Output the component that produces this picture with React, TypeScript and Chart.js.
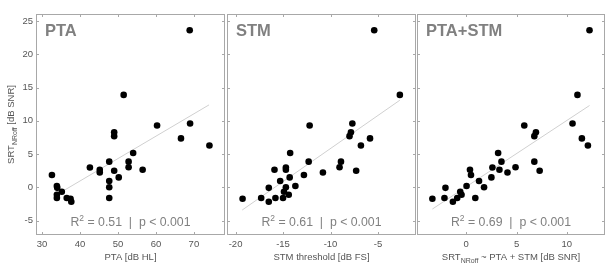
import React, { useEffect, useRef } from "react";
import { Chart, registerables } from "chart.js";

Chart.register(...registerables);

const W = 610;
const H = 269;
const FONT = "'Liberation Sans', Arial, Helvetica, sans-serif";

// SRT (NR off) values shared by all panels [dB SNR]
const srt = [
  -2.15, -1.7, -1.6, -1.6, -1.6, -1.1, -0.65, -0.07, 0.03, 0.2,
  0.97, 1.5, 1.87, 2.25, 2.5, 2.65, 2.65, 3.0, 3.03, 3.87,
  3.87, 5.17, 6.3, 7.36, 7.7, 8.28, 9.3, 9.6, 13.9, 23.6,
];
// PTA [dB HL]
const pta = [
  37.7, 37.5, 33.9, 47.7, 36.5, 33.9, 35.2, 34.0, 47.7, 33.9,
  47.7, 50.2, 32.6, 45.2, 49.0, 45.2, 56.5, 42.6, 52.8, 47.7,
  52.8, 54.0, 74.1, 66.6, 49.0, 49.0, 60.3, 69.0, 51.5, 68.9,
];
// STM threshold [dB FS]
const stm = [
  -16.5, -19.26, -17.3, -15.8, -15.0, -14.4, -14.9, -16.5, -14.7, -13.7,
  -15.3, -14.3, -12.8, -10.8, -7.3, -15.9, -14.7, -14.7, -9.05, -12.3,
  -8.9, -14.25, -6.8, -5.84, -8.0, -7.85, -12.2, -7.7, -2.7, -5.4,
];
// SRT predicted from PTA + STM [dB SNR]
const combined = [
  -1.33, -3.37, -2.17, -0.9, 0.9, -0.47, -0.6, -2.07, 1.77, 0.03,
  1.27, 2.5, 0.47, 4.1, 7.3, 0.37, 3.3, 2.6, 4.9, 3.5,
  6.77, 3.17, 12.1, 11.5, 6.77, 6.93, 5.77, 10.57, 11.06, 12.26,
];

// regression line end points
const ptaFitX = [34.0, 74.0];
const ptaFitY = [-1.05, 12.4];
const stmFitX = [-19.3, -2.7];
const stmFitY = [-3.4, 13.1];
const combFitX = [-3.37, 12.26];
const combFitY = [-3.25, 12.3];

const panelTitles = ["PTA", "STM", "PTA+STM"];
const r2Values = ["0.51", "0.61", "0.69"];
const pText = "p < 0.001";
const xTitles = ["PTA [dB HL]", "STM threshold [dB FS]", ""];

const xData = [pta, stm, combined];
const fitX = [ptaFitX, stmFitX, combFitX];
const fitY = [ptaFitY, stmFitY, combFitY];
const xMin = [28.4, -20.9, -4.9];
const xMax = [78.2, -1.0, 13.8];
const xStep = [10, 5, 5];
const yMin = -7.15;
const yMax = 26.05;
const yStep = 5;

// layout (pixels)
const panelLeft = [36, 227, 417];
const panelRight = [225, 416, 605];
const areaTop = 14;
const areaBottom = 235;

const BOX = "#a8a8a8";
const TXT = "#555555";
const LABEL = "#808080";

function drawSubText(
  ctx: CanvasRenderingContext2D,
  parts: { t: string; size: number; dy: number; bold?: boolean }[],
  cx: number,
  cy: number
) {
  let total = 0;
  for (const p of parts) {
    ctx.font = `${p.bold ? "bold " : ""}${p.size}px ${FONT}`;
    total += ctx.measureText(p.t).width;
  }
  let x = cx - total / 2;
  for (const p of parts) {
    ctx.font = `${p.bold ? "bold " : ""}${p.size}px ${FONT}`;
    ctx.fillText(p.t, x, cy + p.dy);
    x += ctx.measureText(p.t).width;
  }
}

function makeDecor(i: number) {
  return {
    id: "decor" + i,
    beforeDatasetsDraw(chart: any) {
      const { ctx, chartArea } = chart;
      const { left, right, top, bottom } = chartArea;
      const xs = chart.scales.x;
      const ys = chart.scales.y;
      ctx.save();
      ctx.strokeStyle = BOX;
      ctx.lineWidth = 1;
      ctx.strokeRect(left + 0.5, top + 0.5, right - left - 1, bottom - top - 1);
      ctx.beginPath();
      for (const t of xs.ticks) {
        const px = Math.round(xs.getPixelForValue(t.value)) + 0.5;
        ctx.moveTo(px, bottom);
        ctx.lineTo(px, bottom - 3);
        ctx.moveTo(px, top);
        ctx.lineTo(px, top + 3);
      }
      for (const t of ys.ticks) {
        const py = Math.round(ys.getPixelForValue(t.value)) + 0.5;
        ctx.moveTo(left, py);
        ctx.lineTo(left + 3, py);
        ctx.moveTo(right, py);
        ctx.lineTo(right - 3, py);
      }
      ctx.stroke();
      ctx.restore();
    },
    afterDraw(chart: any) {
      const { ctx, chartArea } = chart;
      const { left, right, top, bottom } = chartArea;
      const cx = (left + right) / 2;
      ctx.save();
      ctx.textBaseline = "alphabetic";
      // panel title
      ctx.fillStyle = LABEL;
      ctx.font = `bold 16.5px ${FONT}`;
      ctx.fillText(panelTitles[i], left + 9, top + 22);
      // R2 text
      drawSubText(
        ctx,
        [
          { t: "R", size: 12.3, dy: 0 },
          { t: "2", size: 8.5, dy: -5 },
          { t: " = " + r2Values[i] + "  |  " + pText, size: 12.3, dy: 0 },
        ],
        cx,
        226
      );
      // x-axis title
      ctx.fillStyle = TXT;
      if (i < 2) {
        drawSubText(ctx, [{ t: xTitles[i], size: 9.5, dy: 0 }], cx, 260);
      } else {
        drawSubText(
          ctx,
          [
            { t: "SRT", size: 9.5, dy: 0 },
            { t: "NRoff", size: 7, dy: 2.5 },
            { t: " ~ PTA + STM [dB SNR]", size: 9.5, dy: 0 },
          ],
          cx,
          260
        );
      }
      // y-axis title
      if (i === 0) {
        ctx.translate(14, (top + bottom) / 2);
        ctx.rotate(-Math.PI / 2);
        drawSubText(
          ctx,
          [
            { t: "SRT", size: 9.5, dy: 0 },
            { t: "NRoff", size: 7, dy: 2.5 },
            { t: " [dB SNR]", size: 9.5, dy: 0 },
          ],
          0,
          0
        );
      }
      ctx.restore();
    },
  };
}

function Panel({ i }: { i: number }) {
  const ref = useRef<HTMLCanvasElement | null>(null);
  useEffect(() => {
    if (!ref.current) return;
    const pts = xData[i].map((x, k) => ({ x, y: srt[k] }));
    const fit = fitX[i].map((x, k) => ({ x, y: fitY[i][k] }));
    const chart = new Chart(ref.current, {
      type: "scatter",
      data: {
        datasets: [
          {
            data: pts,
            backgroundColor: "#000000",
            borderColor: "#000000",
            pointRadius: 3.3,
            pointBorderWidth: 0,
            order: 0,
          } as any,
          {
            data: fit,
            showLine: true,
            borderColor: "#d0d0d0",
            borderWidth: 1,
            pointRadius: 0,
            fill: false,
            order: 1,
          } as any,
        ],
      },
      options: {
        responsive: false,
        animation: false,
        devicePixelRatio: 1,
        events: [],
        layout: {
          padding: { left: 0, right: W - panelRight[i], top: areaTop, bottom: 0 },
        },
        plugins: { legend: { display: false }, tooltip: { enabled: false } },
        scales: {
          x: {
            type: "linear",
            min: xMin[i],
            max: xMax[i],
            ticks: {
              stepSize: xStep[i],
              includeBounds: false,
              padding: 4,
              color: TXT,
              font: { family: FONT, size: 9.5 },
              maxRotation: 0,
              autoSkip: false,
            },
            grid: { display: false, drawTicks: false },
            border: { display: false },
            afterFit: (s: any) => {
              s.height = H - areaBottom;
            },
          },
          y: {
            type: "linear",
            min: yMin,
            max: yMax,
            ticks: {
              display: i === 0,
              stepSize: yStep,
              includeBounds: false,
              padding: 3,
              color: TXT,
              font: { family: FONT, size: 9.5 },
              autoSkip: false,
            },
            grid: { display: false, drawTicks: false },
            border: { display: false },
            afterFit: (s: any) => {
              s.width = panelLeft[i];
            },
          },
        },
      } as any,
      plugins: [makeDecor(i)],
    });
    return () => chart.destroy();
  }, [i]);
  return (
    <canvas
      ref={ref}
      width={W}
      height={H}
      style={{ position: "absolute", left: 0, top: 0, width: W, height: H }}
    />
  );
}

export default function App() {
  return (
    <div
      style={{
        position: "absolute",
        left: 0,
        top: 0,
        width: W,
        height: H,
        background: "#ffffff",
        overflow: "hidden",
      }}
    >
      {[0, 1, 2].map((i) => (
        <Panel key={i} i={i} />
      ))}
    </div>
  );
}
